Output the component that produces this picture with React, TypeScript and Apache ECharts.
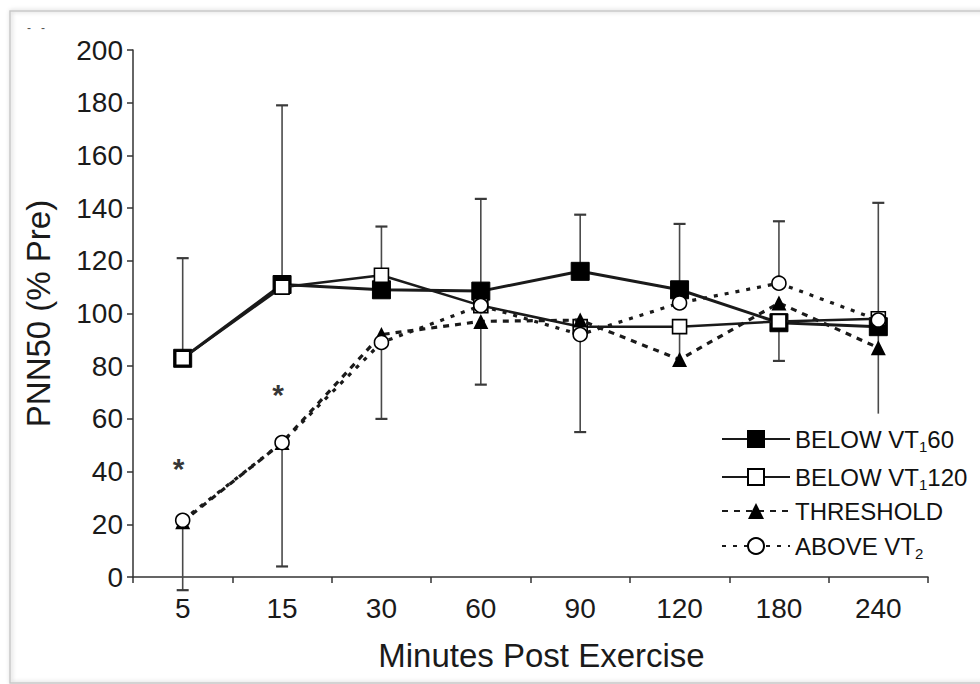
import React, { useEffect, useRef } from "react";
import * as echarts from "echarts";

const categories = ["5", "15", "30", "60", "90", "120", "180", "240"];
const yTicks = { min: 0, max: 200, interval: 20 };

const below60 = [83, 111, 109, 108.5, 116, 109, 96.5, 95];
const below120 = [83, 110, 114.5, 103, 95, 95, 97, 98];
const threshold = [21, 51, 92, 97, 97.5, 82.5, 104, 87];
const aboveVT2 = [21.5, 51, 89, 103, 92, 104, 111.5, 97.5];

// [category index, from, to, has cap (1/0)]
const errorBars = [
  [0, 83, 121, 1],
  [0, 21.5, -5, 1],
  [1, 110, 179, 1],
  [1, 51, 4, 1],
  [2, 114.5, 133, 1],
  [2, 89, 60, 1],
  [3, 108.5, 143.5, 1],
  [3, 97, 73, 1],
  [4, 116, 137.5, 1],
  [4, 92, 55, 1],
  [5, 108, 134, 1],
  [5, 95, 84, 0],
  [6, 111.5, 135, 1],
  [6, 97, 82, 1],
  [7, 97.5, 142, 1],
  [7, 95, 62, 0],
];

// significance markers [category index, value]
const asterisks = [
  [0, 42],
  [1, 70],
];

const legendNames: Record<string, string> = {
  "BELOW VT1 60": "{a|BELOW VT}{s|1}{a|60}",
  "BELOW VT1 120": "{a|BELOW VT}{s|1}{a|120}",
  THRESHOLD: "{a|THRESHOLD}",
  "ABOVE VT2": "{a|ABOVE VT}{s|2}",
};

export default function App() {
  const ref = useRef<HTMLDivElement>(null);
  useEffect(() => {
    if (!ref.current) return;
    const chart = echarts.init(ref.current, null, { renderer: "svg" });
    const font = "Liberation Sans, Arial, sans-serif";
    const ink = "#1a1a1a";
    chart.setOption({
      animation: false,
      backgroundColor: "#ffffff",
      textStyle: { fontFamily: font, color: ink },
      graphic: [
        {
          type: "rect",
          shape: { x: 10, y: 11, width: 985, height: 672 },
          style: {
            fill: "none",
            stroke: "#c8c8c8",
            lineWidth: 1.5,
            shadowBlur: 4,
            shadowColor: "rgba(0,0,0,0.25)",
            shadowOffsetX: 1,
          },
          silent: true,
          z: -10,
        },
        {
          type: "text",
          left: 27,
          top: 22,
          style: { text: "-   -", fontSize: 12, fill: "#555", fontFamily: font },
          silent: true,
        },
      ],
      grid: { left: 133, right: 52, top: 50, bottom: 107, containLabel: false },
      legend: {
        orient: "vertical",
        left: 716,
        top: 418,
        itemWidth: 68,
        itemHeight: 20,
        itemGap: 7,
        data: Object.keys(legendNames),
        formatter: (name: string) => legendNames[name] || name,
        textStyle: {
          fontFamily: font,
          color: "#000",
          rich: {
            a: { fontSize: 24, fontFamily: font, color: "#111", lineHeight: 30, verticalAlign: "middle" },
            s: { fontSize: 15, fontFamily: font, color: "#111", lineHeight: 14, padding: [16, 0, 0, 0], verticalAlign: "bottom" },
          },
        },
      },
      xAxis: {
        type: "category",
        data: categories,
        boundaryGap: true,
        name: "Minutes Post Exercise",
        nameLocation: "middle",
        nameGap: 62,
        nameTextStyle: { fontSize: 33, color: ink, fontFamily: font, padding: [0, 0, 0, 22] },
        axisLine: { lineStyle: { color: "#333", width: 1.5 } },
        axisTick: { show: true, length: 6, interval: 0, lineStyle: { color: "#333", width: 1.5 } },
        axisLabel: { fontSize: 28, color: ink, margin: 17, interval: 0, fontFamily: font },
        splitLine: { show: false },
      },
      yAxis: {
        type: "value",
        min: yTicks.min,
        max: yTicks.max,
        interval: yTicks.interval,
        name: "PNN50 (% Pre)",
        nameLocation: "middle",
        nameGap: 78,
        nameRotate: 90,
        nameTextStyle: { fontSize: 33, color: ink, fontFamily: font },
        axisLine: { show: true, lineStyle: { color: "#333", width: 1.5 } },
        axisTick: { show: true, length: 6, lineStyle: { color: "#333", width: 1.5 } },
        axisLabel: { fontSize: 28, color: ink, margin: 10, fontFamily: font },
        splitLine: { show: false },
      },
      series: [
        {
          type: "custom",
          name: "errors",
          clip: false,
          z: 1,
          silent: true,
          encode: { x: 0, y: [1, 2] },
          data: errorBars,
          renderItem: (params: any, api: any) => {
            const x = api.value(0);
            const p1 = api.coord([x, api.value(1)]);
            const p2 = api.coord([x, api.value(2)]);
            const cap = api.value(3);
            const style = { stroke: "#4a4a4a", lineWidth: 1.6 };
            const children: any[] = [
              { type: "line", shape: { x1: p1[0], y1: p1[1], x2: p2[0], y2: p2[1] }, style },
            ];
            if (cap) {
              children.push({
                type: "line",
                shape: { x1: p2[0] - 6, y1: p2[1], x2: p2[0] + 6, y2: p2[1] },
                style: { stroke: "#3a3a3a", lineWidth: 2.2 },
              });
            }
            return { type: "group", children };
          },
        },
        {
          type: "line",
          name: "BELOW VT1 60",
          data: below60,
          z: 3,
          symbol: "rect",
          symbolSize: 18,
          lineStyle: { color: ink, width: 3, type: "solid" },
          itemStyle: { color: "#000", borderColor: "#000", borderWidth: 1 },
        },
        {
          type: "line",
          name: "BELOW VT1 120",
          data: below120,
          z: 4,
          symbol: "rect",
          symbolSize: 14,
          lineStyle: { color: ink, width: 2.5, type: "solid" },
          itemStyle: { color: "#ffffff", borderColor: "#000", borderWidth: 1.6 },
        },
        {
          type: "line",
          name: "THRESHOLD",
          data: threshold,
          z: 5,
          symbol: "triangle",
          symbolSize: 15,
          lineStyle: { color: ink, width: 3.2, type: [6, 6] },
          itemStyle: { color: "#000", borderColor: "#000", borderWidth: 0 },
        },
        {
          type: "line",
          name: "ABOVE VT2",
          data: aboveVT2,
          z: 6,
          symbol: "circle",
          symbolSize: 14,
          lineStyle: { color: ink, width: 3.2, type: [4, 7] },
          itemStyle: { color: "#ffffff", borderColor: "#000", borderWidth: 1.6 },
        },
        {
          type: "scatter",
          name: "significance",
          data: asterisks,
          symbolSize: 0,
          z: 7,
          silent: true,
          label: {
            show: true,
            position: "inside",
            formatter: "*",
            fontSize: 30,
            fontWeight: "bold",
            color: "#000",
            fontFamily: font,
            offset: [-4, 2],
          },
        },
      ],
    });
    return () => chart.dispose();
  }, []);
  return (
    <div
      ref={ref}
      style={{ position: "fixed", left: 0, top: 0, width: 980, height: 684, background: "#fff" }}
    />
  );
}
